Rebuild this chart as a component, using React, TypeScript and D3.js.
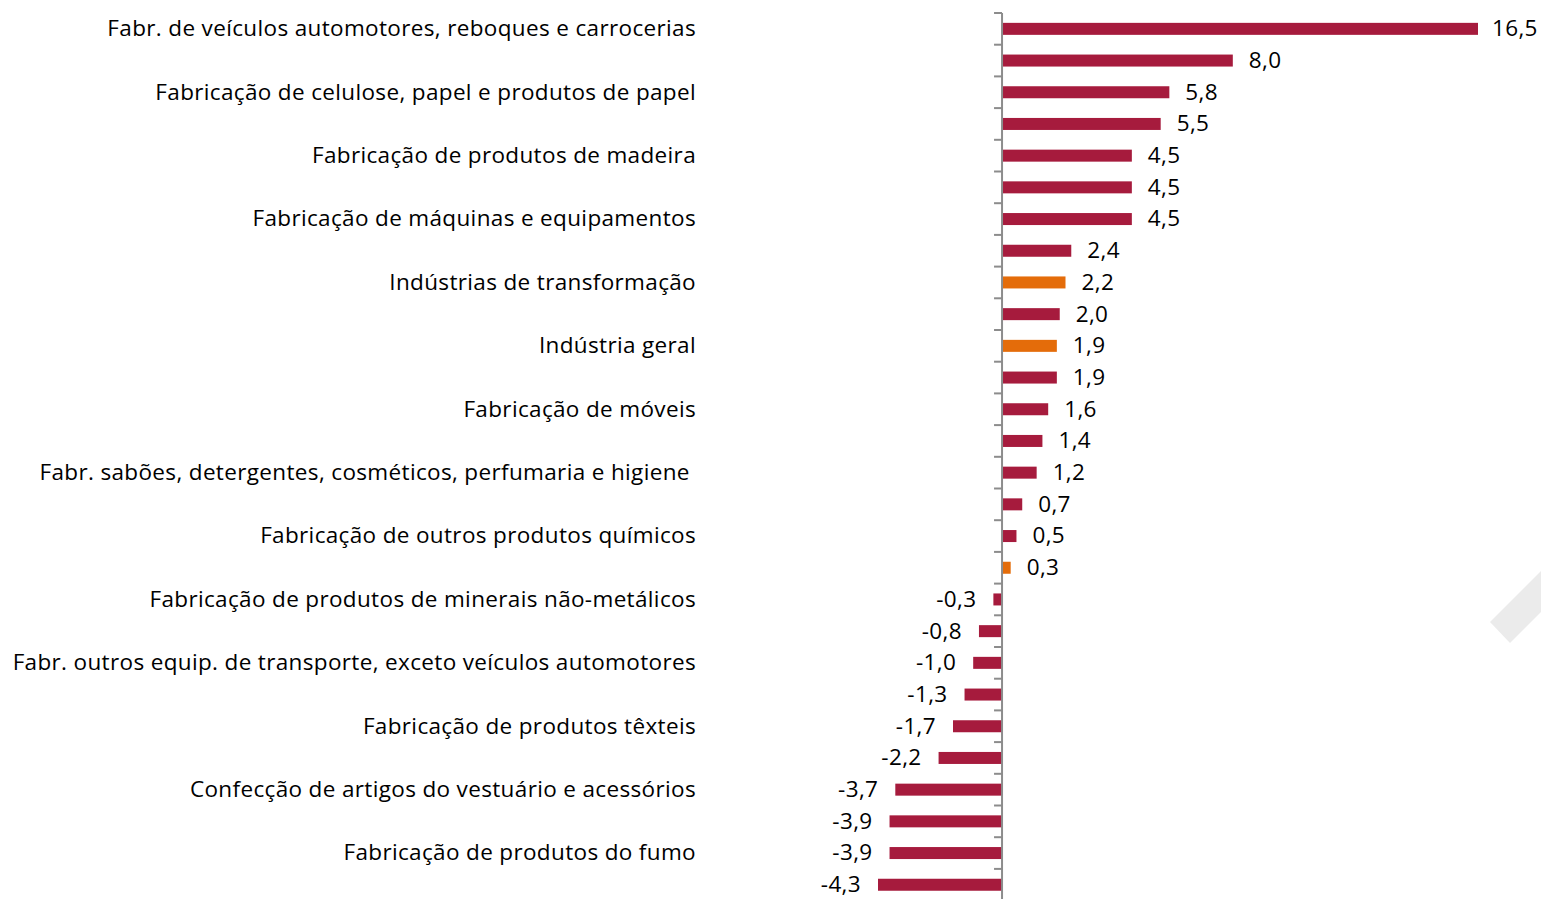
import React from "react";
import * as d3 from "d3";

const categories: string[] = [
  "Fabr. de veículos automotores, reboques e carrocerias",
  "",
  "Fabricação de celulose, papel e produtos de papel",
  "",
  "Fabricação de produtos de madeira",
  "",
  "Fabricação de máquinas e equipamentos",
  "",
  "Indústrias de transformação",
  "",
  "Indústria geral",
  "",
  "Fabricação de móveis",
  "",
  "Fabr. sabões, detergentes, cosméticos, perfumaria e higiene ",
  "",
  "Fabricação de outros produtos químicos",
  "",
  "Fabricação de produtos de minerais não-metálicos",
  "",
  "Fabr. outros equip. de transporte, exceto veículos automotores",
  "",
  "Fabricação de produtos têxteis",
  "",
  "Confecção de artigos do vestuário e acessórios",
  "",
  "Fabricação de produtos do fumo",
  "",
];

const values: number[] = [
  16.5, 8.0, 5.8, 5.5, 4.5, 4.5, 4.5, 2.4, 2.2, 2.0, 1.9, 1.9, 1.6, 1.4,
  1.2, 0.7, 0.5, 0.3, -0.3, -0.8, -1.0, -1.3, -1.7, -2.2, -3.7, -3.9, -3.9, -4.3,
];

const highlighted: boolean[] = values.map((_, i) => i === 8 || i === 10 || i === 17);

const W = 1541;
const H = 899;
const FONT = "'Open Sans', sans-serif";

export default function App() {
  const x = d3.scaleLinear().domain([-4.3, 16.5]).range([878, 1478]);
  const idx = d3.range(values.length).map(String);
  const y = d3.scaleBand<string>().domain(idx).range([13, 13 + 31.7 * values.length]).paddingInner(0).paddingOuter(0);
  const bw = y.bandwidth();
  const barH = 12;
  const x0 = x(0);
  const fmt = (v: number) => d3.format(".1f")(v).replace(".", ",").replace("−", "-");

  return (
    <svg width={W} height={H} style={{ display: "block", position: "absolute", left: 0, top: 0 }}>
      <rect width={W} height={H} fill="#ffffff" />
      <polygon points="1490,622 1541,571 1541,612 1510,643" fill="#ebebeb" />
      {values.map((v, i) => {
        const cy = (y(String(i)) as number) + bw / 2;
        return (
          <rect
            key={"b" + i}
            x={Math.min(x(v), x0)}
            y={cy - barH / 2}
            width={Math.abs(x(v) - x0)}
            height={barH}
            fill={highlighted[i] ? "#E46C0A" : "#A61B3D"}
          />
        );
      })}
      <line x1={x0} x2={x0} y1={13} y2={H} stroke="#8c8c8c" strokeWidth={2} />
      {d3.range(values.length + 1).map((i) => {
        const ty = 13 + i * bw;
        return <line key={"t" + i} x1={x0 - 8} x2={x0} y1={ty} y2={ty} stroke="#8c8c8c" strokeWidth={2} />;
      })}
      {categories.map((c, i) => {
        if (!c) return null;
        const cy = (y(String(i)) as number) + bw / 2;
        return (
          <text key={"c" + i} x={696} y={cy - 0.5} dy="0.35em" textAnchor="end" fontFamily={FONT} fontSize={22.5} letterSpacing={0.35} fill="#000" style={{ whiteSpace: "pre" }}>
            {c}
          </text>
        );
      })}
      {values.map((v, i) => {
        const cy = (y(String(i)) as number) + bw / 2 - 0.5;
        const pos = v >= 0;
        return (
          <text
            key={"v" + i}
            x={pos ? Math.min(x(v) + 16, 1492) : x(v) - 17}
            y={cy}
            dy="0.35em"
            textAnchor={pos ? "start" : "end"}
            fontFamily={FONT}
            fontSize={22.5}
            letterSpacing={0.35}
            fill="#000"
          >
            {fmt(v)}
          </text>
        );
      })}
    </svg>
  );
}
